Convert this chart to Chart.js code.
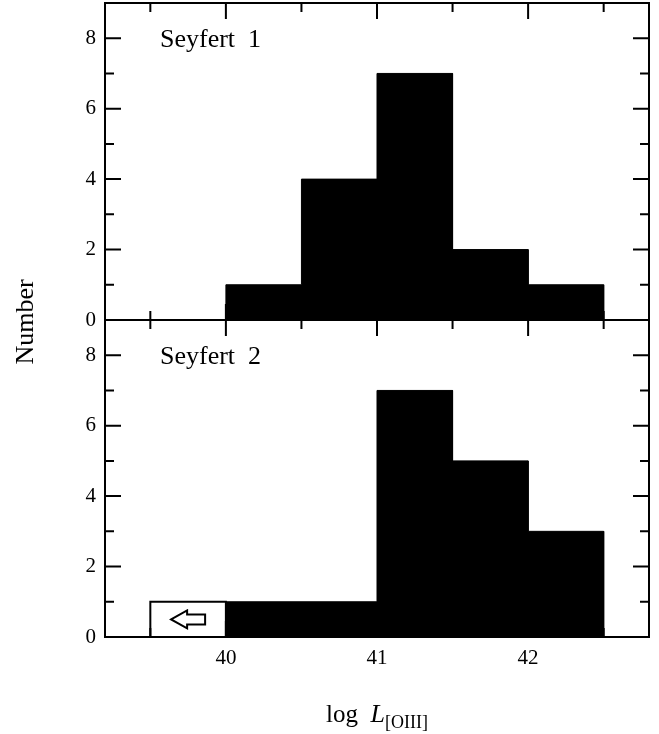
<!DOCTYPE html>
<html>
<head>
<meta charset="utf-8">
<script src="https://cdn.jsdelivr.net/npm/chart.js@4/dist/chart.umd.min.js"></script>
<style>
  html, body { margin: 0; padding: 0; background: #fff; overflow: hidden; }
  #page { position: relative; width: 659px; height: 734px; }
  .panel { position: absolute; left: 0; width: 659px; }
  #topBox { top: 0; height: 400px; }
  #botBox { top: 300px; height: 434px; }
</style>
</head>
<body>
<div id="page">
  <div class="panel" id="topBox"><canvas id="topChart"></canvas></div>
  <div class="panel" id="botBox"><canvas id="botChart"></canvas></div>
</div>
<script>
// ---- data ----
const sy1Edges = [40, 40.5, 41, 41.5, 42, 42.5];
const sy1Counts = [1, 4, 7, 2, 1];

const sy2Edges = [40, 41, 41.5, 42, 42.5];
const sy2Counts = [1, 7, 5, 3];

// upper-limit bin (open box with arrow)
const sy2LimitEdges = [39.5, 40];
const sy2LimitCounts = [1];

const xMajor = [40, 41, 42];
const xMinor = [39.5, 40.5, 41.5, 42.5];
const yMajor = [0, 2, 4, 6, 8];
const yMinor = [1, 3, 5, 7];
const xRange = [39.2, 42.8];
const yRange = [0, 9];

const SERIF = '"Liberation Serif", "DejaVu Serif", serif';

// histogram outline -> points for a filled line
function outline(edges, counts) {
    const pts = [{ x: edges[0], y: 0 }];
    counts.forEach((c, i) => {
        pts.push({ x: edges[i], y: c });
        pts.push({ x: edges[i + 1], y: c });
    });
    pts.push({ x: edges[edges.length - 1], y: 0 });
    return pts;
}

// frame + inward ticks on all four sides
const framePlugin = {
    id: 'frame',
    afterDatasetsDraw(chart, args, opts) {
        const { ctx, chartArea: a, scales: { x, y } } = chart;
        const MAJ = 16, MIN = 9;
        ctx.save();
        ctx.strokeStyle = '#000';
        ctx.lineWidth = 2;
        ctx.lineCap = 'butt';
        ctx.beginPath();
        const tickX = (vals, len) => vals.forEach(v => {
            const px = x.getPixelForValue(v);
            ctx.moveTo(px, a.top); ctx.lineTo(px, a.top + len);
            ctx.moveTo(px, a.bottom); ctx.lineTo(px, a.bottom - len);
        });
        const tickY = (vals, len) => vals.forEach(v => {
            const py = y.getPixelForValue(v);
            ctx.moveTo(a.left, py); ctx.lineTo(a.left + len, py);
            ctx.moveTo(a.right, py); ctx.lineTo(a.right - len, py);
        });
        tickX(xMajor, MAJ); tickX(xMinor, MIN);
        tickY(yMajor, MAJ); tickY(yMinor, MIN);
        ctx.stroke();
        ctx.strokeRect(a.left, a.top, a.right - a.left, a.bottom - a.top);

        // panel label
        ctx.fillStyle = '#000';
        ctx.font = '26px ' + SERIF;
        ctx.textAlign = 'left';
        ctx.textBaseline = 'alphabetic';
        ctx.fillText(opts.label, a.left + 55, a.top + 44);

        // upper-limit arrow
        if (opts.arrow) {
            const cx = x.getPixelForValue((sy2LimitEdges[0] + sy2LimitEdges[1]) / 2);
            const cy = y.getPixelForValue(sy2LimitCounts[0] / 2);
            ctx.beginPath();
            ctx.moveTo(cx - 17, cy);
            ctx.lineTo(cx - 1, cy - 9);
            ctx.lineTo(cx - 1, cy - 5);
            ctx.lineTo(cx + 17, cy - 5);
            ctx.lineTo(cx + 17, cy + 5);
            ctx.lineTo(cx - 1, cy + 5);
            ctx.lineTo(cx - 1, cy + 9);
            ctx.closePath();
            ctx.lineWidth = 2;
            ctx.stroke();
        }

        // y title (shared by both panels, drawn on the top canvas)
        if (opts.yTitle) {
            ctx.save();
            ctx.translate(33, a.bottom + 2);
            ctx.rotate(-Math.PI / 2);
            ctx.textAlign = 'center';
            ctx.font = '26px ' + SERIF;
            ctx.fillText(opts.yTitle, 0, 0);
            ctx.restore();
        }

        // x title: log L_[OIII]
        if (opts.xTitle) {
            const big = '25px ' + SERIF;
            const ital = 'italic 26px ' + SERIF;
            const small = '18px ' + SERIF;
            const parts = [
                { t: 'log  ', f: big, dy: 0 },
                { t: 'L', f: ital, dy: 0 },
                { t: '[OIII]', f: small, dy: 6 }
            ];
            let total = 0;
            parts.forEach(p => { ctx.font = p.f; p.w = ctx.measureText(p.t).width; total += p.w; });
            let px = (a.left + a.right) / 2 - total / 2;
            const base = a.bottom + 85;
            ctx.textAlign = 'left';
            parts.forEach(p => {
                ctx.font = p.f;
                ctx.fillText(p.t, px, base + p.dy);
                px += p.w;
            });
        }
        ctx.restore();
    }
};

function makePanel(canvasId, datasets, opts) {
    return new Chart(document.getElementById(canvasId), {
        type: 'line',
        data: { datasets },
        options: {
            responsive: true,
            maintainAspectRatio: false,
            animation: false,
            devicePixelRatio: 1,
            layout: { padding: opts.padding },
            elements: { point: { radius: 0 }, line: { tension: 0 } },
            plugins: {
                legend: { display: false },
                tooltip: { enabled: false },
                frame: opts.frame
            },
            scales: {
                x: {
                    type: 'linear',
                    min: xRange[0],
                    max: xRange[1],
                    grid: { display: false, drawTicks: false },
                    border: { display: false },
                    afterBuildTicks: s => { s.ticks = xMajor.map(v => ({ value: v })); },
                    afterFit: s => {
                        s.height = opts.xHeight;
                        s.paddingLeft = 0; s.paddingRight = 0;
                    },
                    ticks: {
                        display: opts.xLabels,
                        padding: 9,
                        color: '#000',
                        font: { family: SERIF, size: 21 },
                        maxRotation: 0
                    }
                },
                y: {
                    type: 'linear',
                    min: yRange[0],
                    max: yRange[1],
                    grid: { display: false, drawTicks: false },
                    border: { display: false },
                    afterBuildTicks: s => { s.ticks = yMajor.map(v => ({ value: v })); },
                    afterFit: s => {
                        s.width = 105;
                        s.paddingTop = 0; s.paddingBottom = 0;
                    },
                    ticks: {
                        padding: 9,
                        color: '#000',
                        font: { family: SERIF, size: 21 }
                    }
                }
            }
        },
        plugins: [framePlugin]
    });
}

// top panel: Seyfert 1
makePanel('topChart', [{
    data: outline(sy1Edges, sy1Counts),
    borderColor: '#000',
    borderWidth: 1,
    backgroundColor: '#000',
    fill: 'origin'
}], {
    padding: { top: 3, right: 10, bottom: 80, left: 0 },
    xHeight: 0,
    xLabels: false,
    frame: { label: 'Seyfert  1', yTitle: 'Number' }
});

// bottom panel: Seyfert 2
makePanel('botChart', [{
    data: outline(sy2LimitEdges, sy2LimitCounts),
    borderColor: '#000',
    borderWidth: 2,
    backgroundColor: '#fff',
    fill: 'origin'
}, {
    data: outline(sy2Edges, sy2Counts),
    borderColor: '#000',
    borderWidth: 1,
    backgroundColor: '#000',
    fill: 'origin'
}], {
    padding: { top: 20, right: 10, bottom: 0, left: 0 },
    xHeight: 97,
    xLabels: true,
    frame: { label: 'Seyfert  2', arrow: true, xTitle: true }
});
</script>
</body>
</html>
